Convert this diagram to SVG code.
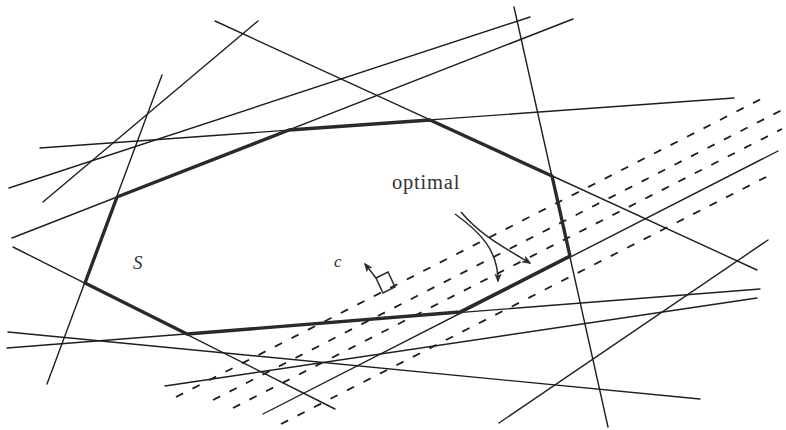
<svg xmlns="http://www.w3.org/2000/svg" width="786" height="430" viewBox="0 0 786 430">
<defs>
<style>
.thin{stroke:#1e1e1e;stroke-width:1.4;fill:none;stroke-linecap:round}
.dash{stroke:#1e1e1e;stroke-width:1.8;fill:none;stroke-dasharray:8 10.5}
.thick{stroke:#2a2a2a;stroke-width:3.4;fill:none;stroke-linejoin:round}
.lbl{font-family:"Liberation Serif","Times New Roman",serif;fill:#333}
.arr{stroke:#2a2a2a;stroke-width:1.5;fill:none}
</style>
<marker id="head" viewBox="0 0 10 10" refX="9" refY="5" markerWidth="8" markerHeight="8" markerUnits="userSpaceOnUse" orient="auto">
<path d="M0,1 L10,5 L0,9 L3,5 Z" fill="#2a2a2a" stroke="#2a2a2a" stroke-width="0.8" stroke-linejoin="round"/>
</marker>
</defs>
<rect width="786" height="430" fill="#ffffff"/>

<g id="constraints">
<line class="thin" x1="12" y1="238" x2="573" y2="19"/>
<line class="thin" x1="40" y1="148" x2="734" y2="98"/>
<line class="thin" x1="215" y1="21" x2="757" y2="270"/>
<line class="thin" x1="514" y1="7" x2="608" y2="427"/>
<line class="thin" x1="263" y1="414" x2="778" y2="151"/>
<line class="thin" x1="7" y1="348" x2="760" y2="289"/>
<line class="thin" x1="13" y1="247" x2="335" y2="409"/>
<line class="thin" x1="162" y1="75" x2="47" y2="384"/>
<line class="thin" x1="9" y1="188" x2="530" y2="17"/>
<line class="thin" x1="43" y1="202" x2="258" y2="21"/>
<line class="thin" x1="8" y1="332" x2="700" y2="399"/>
<line class="thin" x1="165" y1="386" x2="757" y2="298"/>
<line class="thin" x1="499" y1="423" x2="768" y2="240"/>
</g>

<g id="level-sets">
<line class="dash" x1="176" y1="397" x2="767" y2="96"/>
<line class="dash" x1="213" y1="400" x2="782" y2="110"/>
<line class="dash" x1="233" y1="408" x2="782" y2="129"/>
<line class="dash" x1="281" y1="424" x2="772" y2="174"/>
</g>

<g id="feasible-region">
<polygon class="thick" points="117,197 289,130 430,120 552,176 570,256 460,312 187,334 85,283"/>
</g>

<g id="objective">
<polygon class="arr" points="376,278 388,272 395,287 383,293"/>
<line class="arr" x1="376" y1="278" x2="365" y2="264" marker-end="url(#head)"/>
</g>

<g id="optimal-arrows">
<path class="arr" d="M455,214 C480,232 498,250 498,281" marker-end="url(#head)"/>
<path class="arr" d="M461,212 C480,235 505,248 530,263" marker-end="url(#head)"/>
</g>

<g id="labels">
<text class="lbl" x="392" y="189" font-size="20.5" letter-spacing="0.8">optimal</text>
<text class="lbl" x="133" y="269" font-size="19" font-style="italic">S</text>
<text class="lbl" x="334" y="267" font-size="17" font-style="italic">c</text>
</g>
</svg>
